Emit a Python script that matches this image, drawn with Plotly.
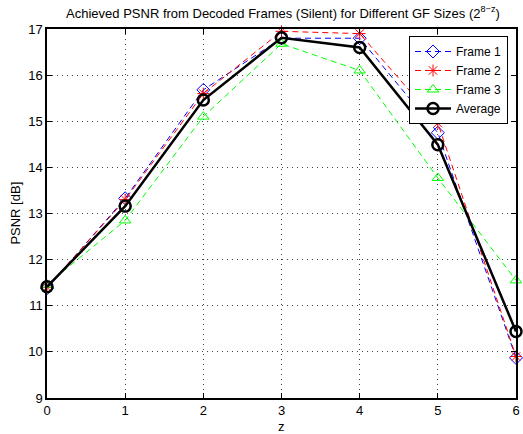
import plotly.graph_objects as go

z = [0, 1, 2, 3, 4, 5, 6]
frame1 = [11.38, 13.33, 15.68, 16.80, 16.80, 14.75, 9.87]
frame2 = [11.40, 13.30, 15.60, 16.95, 16.90, 14.96, 9.90]
frame3 = [11.46, 12.85, 15.10, 16.68, 16.10, 13.77, 11.55]
average = [11.41, 13.16, 15.46, 16.81, 16.60, 14.49, 10.44]

x_ticks = [0, 1, 2, 3, 4, 5, 6]
y_ticks = [9, 10, 11, 12, 13, 14, 15, 16, 17]

font = "Liberation Sans, Arial, sans-serif"

fig = go.Figure()
fig.add_trace(go.Scatter(x=z, y=frame1, name="Frame 1", mode="lines+markers", cliponaxis=False,
                         line=dict(color="#0000ff", width=1, dash="6px,4px"),
                         marker=dict(symbol="diamond-open", size=10, color="#0000ff", line=dict(width=1))))
fig.add_trace(go.Scatter(x=z, y=frame2, name="Frame 2", mode="lines+markers", cliponaxis=False,
                         line=dict(color="#ff0000", width=1, dash="6px,4px"),
                         marker=dict(symbol="asterisk-open", size=10, color="#ff0000", line=dict(width=1, color="#ff0000"))))
fig.add_trace(go.Scatter(x=z, y=frame3, name="Frame 3", mode="lines+markers", cliponaxis=False,
                         line=dict(color="#00ff00", width=1, dash="6px,4px"),
                         marker=dict(symbol="triangle-up-open", size=10, color="#00ff00", line=dict(width=1))))
fig.add_trace(go.Scatter(x=z, y=average, name="Average", mode="lines+markers", cliponaxis=False,
                         line=dict(color="#000000", width=2.5),
                         marker=dict(symbol="circle-open", size=11, color="#000000", line=dict(width=2.5))))

axis_common = dict(showline=True, linecolor="black", linewidth=1.5, mirror="ticks",
                   ticks="inside", ticklen=5, tickcolor="black", automargin=False,
                   showgrid=True, gridcolor="#444444", griddash="1px,4px", gridwidth=1,
                   zeroline=False, tickfont=dict(family=font, size=13, color="black"))

fig.update_xaxes(range=[0, 6], tickvals=x_ticks, ticktext=[str(v) for v in x_ticks], **axis_common)
fig.update_yaxes(range=[9, 17], tickvals=y_ticks, ticktext=[str(v) for v in y_ticks], **axis_common)

fig.add_annotation(text="z", xref="paper", yref="paper", x=0.5, y=-0.078, xanchor="center", yanchor="middle",
                   showarrow=False, font=dict(family=font, size=13, color="black"))
fig.add_annotation(text="PSNR [dB]", xref="paper", yref="paper", x=-0.068, y=0.5, xanchor="center",
                   yanchor="middle", textangle=-90, showarrow=False,
                   font=dict(family=font, size=13, color="black"))

fig.update_layout(
    width=523, height=434,
    margin=dict(l=47, r=7, t=29, b=36, autoexpand=False),
    paper_bgcolor="white", plot_bgcolor="white",
    title=dict(text="Achieved PSNR from Decoded Frames (Silent) for Different GF Sizes (2<sup>8−z</sup>)",
               x=0.541, xanchor="center", y=0.98, yanchor="top",
               font=dict(family=font, size=13, color="black")),
    legend=dict(x=0.983, y=0.981, xanchor="right", yanchor="top",
                bgcolor="white", bordercolor="black", borderwidth=1,
                font=dict(family=font, size=12, color="black"),
                tracegroupgap=0, itemwidth=36),
    showlegend=True,
)

fig.write_html("out.html", config={"displayModeBar": False},
               post_script="document.body.style.margin='0';document.body.style.overflow='hidden';")
